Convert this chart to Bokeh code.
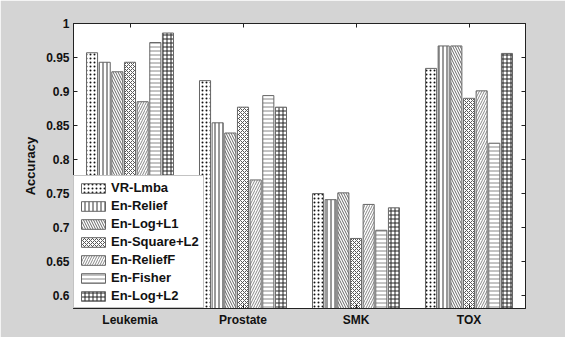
from bokeh.plotting import figure
from bokeh.models import ColumnDataSource, FactorRange, Range1d, LinearAxis, CategoricalAxis, FixedTicker, Legend
from bokeh.transform import dodge
from bokeh.embed import file_html
from bokeh.resources import INLINE

categories = ["Leukemia", "Prostate", "SMK", "TOX"]
series_names = ["VR-Lmba", "En-Relief", "En-Log+L1", "En-Square+L2", "En-ReliefF", "En-Fisher", "En-Log+L2"]
vr_lmba      = [0.957, 0.916, 0.750, 0.934]
en_relief    = [0.943, 0.854, 0.741, 0.967]
en_log_l1    = [0.929, 0.839, 0.751, 0.967]
en_square_l2 = [0.943, 0.877, 0.684, 0.890]
en_relieff   = [0.885, 0.770, 0.734, 0.901]
en_fisher    = [0.972, 0.894, 0.696, 0.824]
en_log_l2    = [0.986, 0.877, 0.729, 0.956]
y_ticks = [0.6, 0.65, 0.7, 0.75, 0.8, 0.85, 0.9, 0.95, 1.0]

series_values = [vr_lmba, en_relief, en_log_l1, en_square_l2, en_relieff, en_fisher, en_log_l2]
hatches = [
    dict(hatch_pattern="dot", hatch_scale=4, hatch_color="#111111", hatch_weight=1),
    dict(hatch_pattern="vertical_line", hatch_scale=4, hatch_color="#333333", hatch_weight=1),
    dict(hatch_pattern="left_diagonal_line", hatch_scale=5, hatch_color="#666666", hatch_weight=1),
    dict(hatch_pattern="diagonal_cross", hatch_scale=4, hatch_color="#555555", hatch_weight=1),
    dict(hatch_pattern="right_diagonal_line", hatch_scale=5, hatch_color="#888888", hatch_weight=1),
    dict(hatch_pattern="horizontal_line", hatch_scale=4, hatch_color="#888888", hatch_weight=1),
    dict(hatch_pattern="cross", hatch_scale=4, hatch_color="#222222", hatch_weight=1),
]

data = {"cat": categories}
for i, vals in enumerate(series_values):
    data["s%d" % i] = vals
source = ColumnDataSource(data)

FONT = "Liberation Sans"
BG = "#d4d4d4"

p = figure(x_range=FactorRange(*categories), y_range=Range1d(0.581, 1.0),
           width=565, height=337, output_backend="svg", toolbar_location=None,
           min_border_left=73, min_border_right=40, min_border_top=23, min_border_bottom=29)
p.background_fill_color = "white"
p.border_fill_color = BG
p.outline_line_color = "#222222"
p.outline_line_width = 1
p.xgrid.visible = False
p.ygrid.visible = False

pitch = 0.112
renderers = []
for i in range(7):
    r = p.vbar(x=dodge("cat", (i - 3) * pitch, range=p.x_range), top="s%d" % i, bottom=0.5,
               width=0.098, source=source, fill_color="white",
               line_color="#666666", line_width=1, **hatches[i])
    renderers.append(r)

legend = Legend(items=[(series_names[i], [renderers[i]]) for i in range(7)],
                location=(0, 0), orientation="vertical")
legend.glyph_width = 30
legend.glyph_height = 12
legend.label_height = 12
legend.spacing = 3
legend.padding = 4
legend.margin = 0
legend.label_standoff = 3
legend.label_text_font = FONT
legend.label_text_font_size = "13px"
legend.label_text_font_style = "bold"
legend.label_text_color = "#111111"
legend.border_line_color = "#888888"
legend.background_fill_alpha = 1.0
p.add_layout(legend)

def style_axis(ax):
    ax.axis_line_color = "#222222"
    ax.major_tick_in = 4
    ax.major_tick_out = 0
    ax.minor_tick_in = 0
    ax.minor_tick_out = 0
    ax.major_tick_line_color = "#222222"
    ax.major_label_text_font = FONT
    ax.major_label_text_font_size = "12px"
    ax.major_label_text_font_style = "bold"
    ax.major_label_text_color = "#111111"

yax = p.yaxis[0]
yax.ticker = FixedTicker(ticks=y_ticks)
yax.major_label_overrides = {t: ("1" if t == 1.0 else ("%g" % t)) for t in y_ticks}
yax.axis_label = "Accuracy"
yax.axis_label_text_font = FONT
yax.axis_label_text_font_size = "13px"
yax.axis_label_text_font_style = "bold"
yax.axis_label_text_color = "#111111"
yax.axis_label_standoff = 5
yax.major_label_standoff = 4
style_axis(yax)

xax = p.xaxis[0]
xax.major_label_standoff = 4
style_axis(xax)

ry = LinearAxis(ticker=FixedTicker(ticks=y_ticks))
style_axis(ry)
ry.major_label_overrides = {t: "" for t in y_ticks}
p.add_layout(ry, "right")
tx = CategoricalAxis()
style_axis(tx)
tx.major_label_standoff = 0
tx.major_label_text_color = None
p.add_layout(tx, "above")

open("out.html", "w").write(file_html(p, INLINE))
